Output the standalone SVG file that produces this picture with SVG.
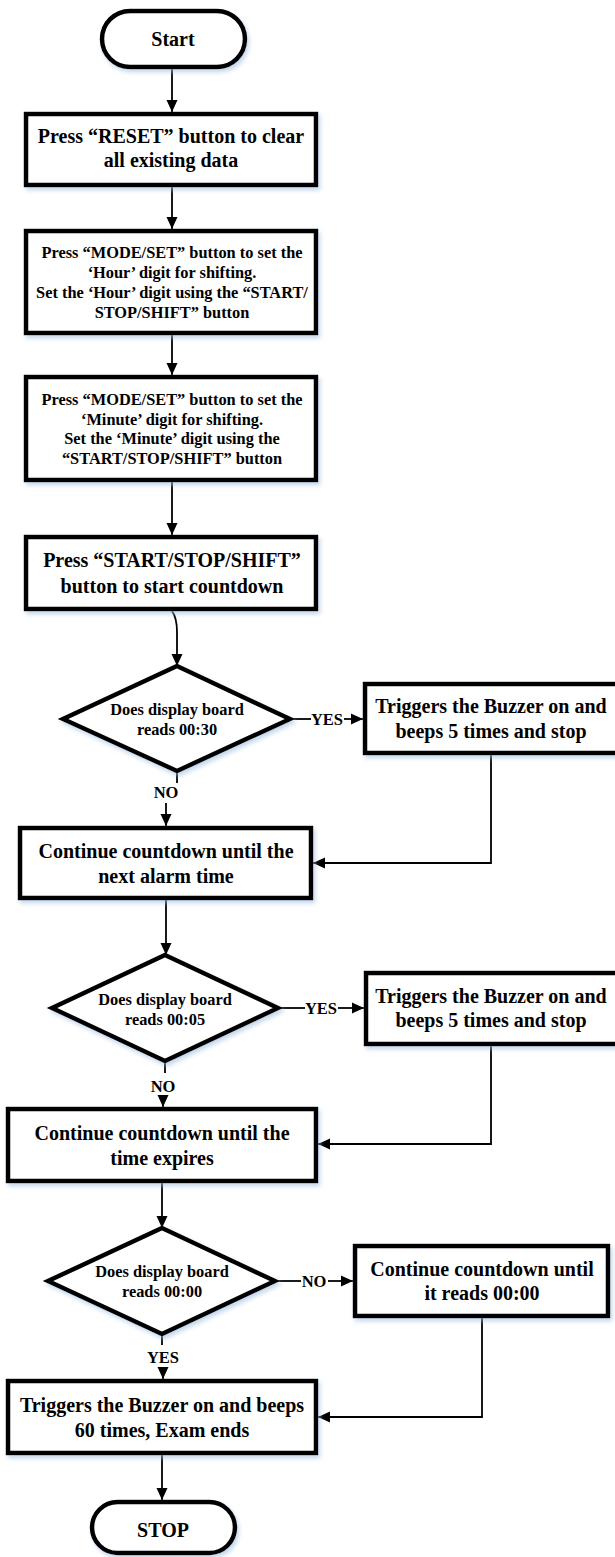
<svg xmlns="http://www.w3.org/2000/svg" width="615" height="1557" viewBox="0 0 615 1557">
<style>
.shape{fill:#fff;stroke:#000;stroke-width:4.5;filter:url(#sh)}
.t{font-family:"Liberation Serif","Times New Roman",serif;font-weight:bold;text-anchor:middle;fill:#000}
.big{font-size:20px}
.sm{font-size:17.6px}
.lbl{font-family:"Liberation Serif","Times New Roman",serif;font-weight:bold;font-size:16.5px;text-anchor:middle;fill:#000}
.c{fill:none;stroke:#000;stroke-width:1.8}
</style>
<defs>
<filter id="sh" x="-10%" y="-10%" width="125%" height="130%">
<feDropShadow dx="2" dy="3" stdDeviation="2" flood-color="#9fbde0" flood-opacity="0.6"/>
</filter>
<marker id="ah" markerUnits="userSpaceOnUse" markerWidth="12" markerHeight="12" viewBox="0 0 12 12" refX="12" refY="6" orient="auto">
<path d="M0,0.5 L12,6 L0,11.5 Z" fill="#000"/>
</marker>
</defs>
<rect width="615" height="1557" fill="#fff"/>

<g id="connectors">
<path class="c" d="M172,69 L172,112" marker-end="url(#ah)"/>
<path class="c" d="M172,187 L172,229" marker-end="url(#ah)"/>
<path class="c" d="M172,335 L172,375" marker-end="url(#ah)"/>
<path class="c" d="M172,482 L172,535" marker-end="url(#ah)"/>
<path class="c" d="M172,611 Q177,618 177,632 L177,666" marker-end="url(#ah)"/>
<path class="c" d="M290,719 L311,719"/>
<path class="c" d="M344,719 L363,719" marker-end="url(#ah)"/>
<path class="c" d="M491,755 L491,863 L313,863" marker-end="url(#ah)"/>
<path class="c" d="M177,771 L177,783"/>
<path class="c" d="M166,803 L166,826" marker-end="url(#ah)"/>
<path class="c" d="M166,900 L166,955" marker-end="url(#ah)"/>
<path class="c" d="M278,1008 L305,1008"/>
<path class="c" d="M338,1008 L364,1008" marker-end="url(#ah)"/>
<path class="c" d="M491,1046 L491,1144 L318,1144" marker-end="url(#ah)"/>
<path class="c" d="M165,1061 L165,1073"/>
<path class="c" d="M163,1095 L163,1107" marker-end="url(#ah)"/>
<path class="c" d="M162,1183 L162,1228" marker-end="url(#ah)"/>
<path class="c" d="M275,1281 L301,1281"/>
<path class="c" d="M328,1281 L353,1281" marker-end="url(#ah)"/>
<path class="c" d="M482,1318 L482,1417 L318,1417" marker-end="url(#ah)"/>
<path class="c" d="M162,1334 L162,1345"/>
<path class="c" d="M163,1367 L163,1379" marker-end="url(#ah)"/>
<path class="c" d="M162,1455 L162,1500" marker-end="url(#ah)"/>
<text class="lbl" x="327" y="725">YES</text>
<text class="lbl" x="166" y="798">NO</text>
<text class="lbl" x="321" y="1014">YES</text>
<text class="lbl" x="163" y="1092">NO</text>
<text class="lbl" x="314" y="1287">NO</text>
<text class="lbl" x="163" y="1363">YES</text>
</g>

<g id="start">
<rect class="shape" x="102" y="11" width="143" height="56" rx="28"/>
<text class="t big" x="173" y="46">Start</text>
</g>

<g id="reset">
<rect class="shape" x="26" y="114" width="290" height="71"/>
<text class="t big" x="171" y="143">Press “RESET” button to clear</text>
<text class="t big" x="171" y="167">all existing data</text>
</g>

<g id="set-hour">
<rect class="shape" x="26" y="231" width="290" height="102"/>
<g transform="translate(172 0) scale(0.93 1)">
<text class="t sm" x="0" y="258">Press “MODE/SET” button to set the</text>
<text class="t sm" x="0" y="278">‘Hour’ digit for shifting.</text>
<text class="t sm" x="0" y="298">Set the ‘Hour’ digit using the “START/</text>
<text class="t sm" x="0" y="318">STOP/SHIFT” button</text>
</g>
</g>

<g id="set-minute">
<rect class="shape" x="26" y="377" width="290" height="103"/>
<g transform="translate(172 0) scale(0.93 1)">
<text class="t sm" x="0" y="405">Press “MODE/SET” button to set the</text>
<text class="t sm" x="0" y="425">‘Minute’ digit for shifting.</text>
<text class="t sm" x="0" y="444">Set the ‘Minute’ digit using the</text>
<text class="t sm" x="0" y="464">“START/STOP/SHIFT” button</text>
</g>
</g>

<g id="start-countdown">
<rect class="shape" x="26" y="537" width="290" height="72"/>
<text class="t big" x="172" y="567">Press “START/STOP/SHIFT”</text>
<text class="t big" x="172" y="593">button to start countdown</text>
</g>

<g id="check-0030">
<polygon class="shape" points="177,666 290,719 177,771 63,719"/>
<g transform="translate(177 0) scale(0.93 1)">
<text class="t sm" x="0" y="715">Does display board</text>
<text class="t sm" x="0" y="735">reads 00:30</text>
</g>
</g>

<g id="buzzer-1">
<rect class="shape" x="365" y="684" width="254" height="69"/>
<text class="t big" x="491" y="713">Triggers the Buzzer on and</text>
<text class="t big" x="491" y="738">beeps 5 times and stop</text>
</g>

<g id="continue-next">
<rect class="shape" x="20" y="828" width="291" height="70"/>
<text class="t big" x="166" y="858">Continue countdown until the</text>
<text class="t big" x="166" y="883">next alarm time</text>
</g>

<g id="check-0005">
<polygon class="shape" points="165,955 278,1008 165,1061 52,1008"/>
<g transform="translate(165 0) scale(0.93 1)">
<text class="t sm" x="0" y="1005">Does display board</text>
<text class="t sm" x="0" y="1025">reads 00:05</text>
</g>
</g>

<g id="buzzer-2">
<rect class="shape" x="366" y="973" width="254" height="71"/>
<text class="t big" x="491" y="1003">Triggers the Buzzer on and</text>
<text class="t big" x="491" y="1027">beeps 5 times and stop</text>
</g>

<g id="continue-expire">
<rect class="shape" x="8" y="1109" width="308" height="72"/>
<text class="t big" x="162" y="1140">Continue countdown until the</text>
<text class="t big" x="162" y="1165">time expires</text>
</g>

<g id="check-0000">
<polygon class="shape" points="162,1228 275,1281 162,1334 48,1281"/>
<g transform="translate(162 0) scale(0.93 1)">
<text class="t sm" x="0" y="1277">Does display board</text>
<text class="t sm" x="0" y="1297">reads 00:00</text>
</g>
</g>

<g id="continue-0000">
<rect class="shape" x="355" y="1246" width="253" height="70"/>
<text class="t big" x="482" y="1276">Continue countdown until</text>
<text class="t big" x="482" y="1300">it reads 00:00</text>
</g>

<g id="exam-ends">
<rect class="shape" x="8" y="1381" width="308" height="72"/>
<text class="t big" x="162" y="1412">Triggers the Buzzer on and beeps</text>
<text class="t big" x="162" y="1437">60 times, Exam ends</text>
</g>

<g id="stop">
<rect class="shape" x="92" y="1502" width="143" height="51" rx="25.5"/>
<text class="t big" x="163" y="1537">STOP</text>
</g>
</svg>
